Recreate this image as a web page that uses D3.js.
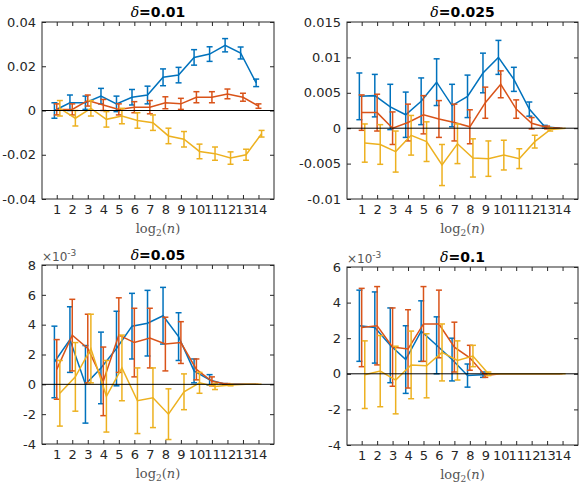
<!DOCTYPE html>
<html><head><meta charset="utf-8">
<script src="https://cdn.jsdelivr.net/npm/d3@7"></script>
<style>body{margin:0;background:#fff;font-family:"DejaVu Sans",sans-serif}</style>
</head><body>
<script>
// x positions: log2(n)
const ticksX = d3.range(1, 15);

// panel 1: delta = 0.01
const p1Blue = [0,0.0035,0.0035,0.0065,0.003,0.006,0.007,0.015,0.016,0.024,0.0255,0.0295,0.026,0.0125];
const p1BlueErr = [0.0035,0.0035,0.003,0.0035,0.0035,0.0035,0.004,0.0038,0.0035,0.0035,0.0033,0.003,0.0027,0.0017];
const p1Red = [0.0005,0.0005,0.0045,0.0025,0.0005,0.0015,0.0015,0.0035,0.003,0.006,0.006,0.0075,0.006,0.002];
const p1RedErr = [0.0025,0.0025,0.0025,0.0025,0.0025,0.0025,0.003,0.0027,0.0025,0.0025,0.0025,0.0022,0.0018,0.001];
const p1Yellow = [0.001,-0.0035,0.001,-0.004,-0.0025,-0.0045,-0.0055,-0.0115,-0.013,-0.0185,-0.0195,-0.0215,-0.02,-0.0105];
const p1YellowErr = [0.0035,0.0035,0.0035,0.0035,0.0035,0.0035,0.0035,0.0035,0.0035,0.0033,0.003,0.0028,0.0025,0.0015];

// panel 2: delta = 0.025
const p2Blue = [0.0045,0.0046,0.003,0.0019,0.0038,0.0065,0.0032,0.0045,0.0078,0.01,0.0069,0.0027,0.0002,0];
const p2BlueErr = [0.0033,0.003,0.0032,0.0032,0.0033,0.0033,0.003,0.003,0.0028,0.0024,0.0017,0.001,0.0002,0];
const p2Red = [0.0022,0.0022,0,0.0008,0.0019,0.0013,0.0008,0.0002,0.0036,0.0062,0.0027,0.0007,0.0001,0];
const p2RedErr = [0.0025,0.0026,0.0023,0.0026,0.0027,0.0026,0.0026,0.0024,0.0022,0.0019,0.0013,0.0008,0.0002,0];
const p2Yellow = [-0.0021,-0.0023,-0.0033,-0.001,-0.0019,-0.0052,-0.0022,-0.0042,-0.0043,-0.0038,-0.0043,-0.0019,-0.0002,0];
const p2YellowErr = [0.0027,0.0028,0.0029,0.0028,0.0028,0.0029,0.0028,0.0027,0.0025,0.0021,0.0014,0.0009,0.0002,0];

// panel 3: delta = 0.05 (x1e-3)
const p3Blue = [1.5,3,0,1.1,2.4,3.9,4.1,4.6,3.2,0.9,0.3,0,0,0];
const p3BlueErr = [2.4,2.2,2.6,2.4,2.5,2.2,2.2,1.9,1.6,0.8,0.35,0.05,0,0];
const p3Red = [1,3.3,2.4,0.2,3.3,2.8,3.1,2.7,2.8,1,0.2,0,0,0];
const p3RedErr = [2,2.4,2.3,2.3,2.5,2.3,2,1.8,1.4,0.7,0.3,0.05,0,0];
const p3Yellow = [-0.6,0.5,2.4,-0.8,1.1,-1.1,-0.9,-2,-0.5,0.1,-0.15,-0.05,0,0];
const p3YellowErr = [2.2,2.3,2.3,2.4,2.2,2.2,2,1.7,1.2,0.7,0.2,0.05,0,0];

// panel 4: delta = 0.1 (x1e-3)
const p4Blue = [2.7,2.6,1.6,0.8,2.4,1.6,0.8,-0.1,-0.05,0,0,0,0,0];
const p4BlueErr = [2,2,2.1,1.9,1.7,1.6,1.2,0.65,0.15,0,0,0,0,0];
const p4Red = [2.6,2.7,1.5,1.4,2.8,2.8,1.5,0.9,-0.1,0,0,0,0,0];
const p4RedErr = [2.2,2.2,2.2,2.2,2.1,1.9,1.4,0.7,0.1,0,0,0,0,0];
const p4Yellow = [-0.05,0.15,-0.35,0.5,0.45,1.2,0.75,1.0,0,0,0,0,0,0];
const p4YellowErr = [1.9,2,1.9,1.9,1.8,1.6,1.1,0.6,0.1,0,0,0,0,0];

const colors = ["#0072BD", "#D95319", "#EDB120"];
const offsets = [-0.15, 0, 0.2];

const panels = [
  {title: "0.01", box: [42, 22, 274, 199], dom: [-0.04, 0.04], ticks: [-0.04,-0.02,0,0.02,0.04], fmt: d => d === 0 ? "0" : d.toFixed(2), exp: false,
   series: [[p1Blue,p1BlueErr],[p1Red,p1RedErr],[p1Yellow,p1YellowErr]]},
  {title: "0.025", box: [347, 22, 578, 199], dom: [-0.01, 0.015], ticks: [-0.01,-0.005,0,0.005,0.01,0.015], fmt: d => d === 0 ? "0" : String(+d.toFixed(3)), exp: false,
   series: [[p2Blue,p2BlueErr],[p2Red,p2RedErr],[p2Yellow,p2YellowErr]]},
  {title: "0.05", box: [42, 265, 274, 444], dom: [-4, 8], ticks: [-4,-2,0,2,4,6,8], fmt: d => String(d), exp: true,
   series: [[p3Blue,p3BlueErr],[p3Red,p3RedErr],[p3Yellow,p3YellowErr]]},
  {title: "0.1", box: [347, 267, 578, 445], dom: [-4, 6], ticks: [-4,-2,0,2,4,6], fmt: d => String(d), exp: true,
   series: [[p4Blue,p4BlueErr],[p4Red,p4RedErr],[p4Yellow,p4YellowErr]]}
];

const svg = d3.select("body").append("svg").attr("width", 585).attr("height", 486);

panels.forEach(p => {
  const [x0, y0, x1, y1] = p.box;
  const x = d3.scaleLinear().domain([0.05, 15]).range([x0, x1]);
  const y = d3.scaleLinear().domain(p.dom).range([y1, y0]);
  const g = svg.append("g");

  g.append("rect").attr("x", x0).attr("y", y0).attr("width", x1 - x0).attr("height", y1 - y0)
    .attr("fill", "none").attr("stroke", "#262626").attr("stroke-width", 1);

  const ax = g.append("g").attr("transform", `translate(0,${y1})`)
    .call(d3.axisBottom(x).tickValues(ticksX).tickSize(-4).tickPadding(6));
  const ay = g.append("g").attr("transform", `translate(${x0},0)`)
    .call(d3.axisLeft(y).tickValues(p.ticks).tickFormat(p.fmt).tickSize(-4).tickPadding(6));
  // top/right ticks
  g.append("g").attr("transform", `translate(0,${y0})`).call(d3.axisTop(x).tickValues(ticksX).tickSize(-4).tickFormat(""));
  g.append("g").attr("transform", `translate(${x1},0)`).call(d3.axisRight(y).tickValues(p.ticks).tickSize(-4).tickFormat(""));
  g.selectAll(".domain").remove();
  g.selectAll(".tick line").attr("stroke", "#262626");
  g.selectAll(".tick text").attr("fill", "#262626").style("font-size", "13px").style("font-family", "DejaVu Sans");

  const line = d3.line().x(d => x(d[0])).y(d => y(d[1]));
  p.series.forEach(([vals, errs], k) => {
    const c = colors[k];
    const pts = vals.map((v, i) => [ticksX[i] + offsets[k], v, errs[i]]);
    g.append("path").datum(pts).attr("d", line).attr("fill", "none").attr("stroke", c).attr("stroke-width", 1.5);
    pts.forEach(([xv, v, e]) => {
      if (e <= 0) return;
      const cx = x(xv);
      g.append("line").attr("x1", cx).attr("x2", cx).attr("y1", y(v - e)).attr("y2", y(v + e)).attr("stroke", c).attr("stroke-width", 1.5);
      [v - e, v + e].forEach(t => g.append("line").attr("x1", cx - 3).attr("x2", cx + 3).attr("y1", y(t)).attr("y2", y(t)).attr("stroke", c).attr("stroke-width", 1.5));
    });
  });

  g.append("line").attr("x1", x0).attr("x2", x1).attr("y1", y(0)).attr("y2", y(0)).attr("stroke", "#000").attr("stroke-width", 1);

  const t = g.append("text").attr("x", (x0 + x1) / 2).attr("y", y0 - 5).attr("text-anchor", "middle").style("font-size", "14px");
  t.append("tspan").text("δ").style("font-family", "DejaVu Serif").style("font-style", "italic");
  t.append("tspan").text("=" + p.title).style("font-weight", "bold");

  const xl = g.append("text").attr("x", (x0 + x1) / 2).attr("y", y1 + 34).attr("text-anchor", "middle")
    .attr("fill", "#555").style("font-family", "DejaVu Serif").style("font-size", "13px");
  xl.append("tspan").text("log");
  xl.append("tspan").text("2").attr("dy", 3).style("font-size", "9px");
  xl.append("tspan").text("(").attr("dy", -3);
  xl.append("tspan").text("n").style("font-style", "italic");
  xl.append("tspan").text(")");

  if (p.exp) {
    const e = g.append("text").attr("x", x0).attr("y", y0 - 4).attr("fill", "#555").style("font-size", "12px");
    e.append("tspan").text("×10");
    e.append("tspan").text("-3").attr("dy", -5).style("font-size", "9px");
  }
});
</script>
</body></html>
